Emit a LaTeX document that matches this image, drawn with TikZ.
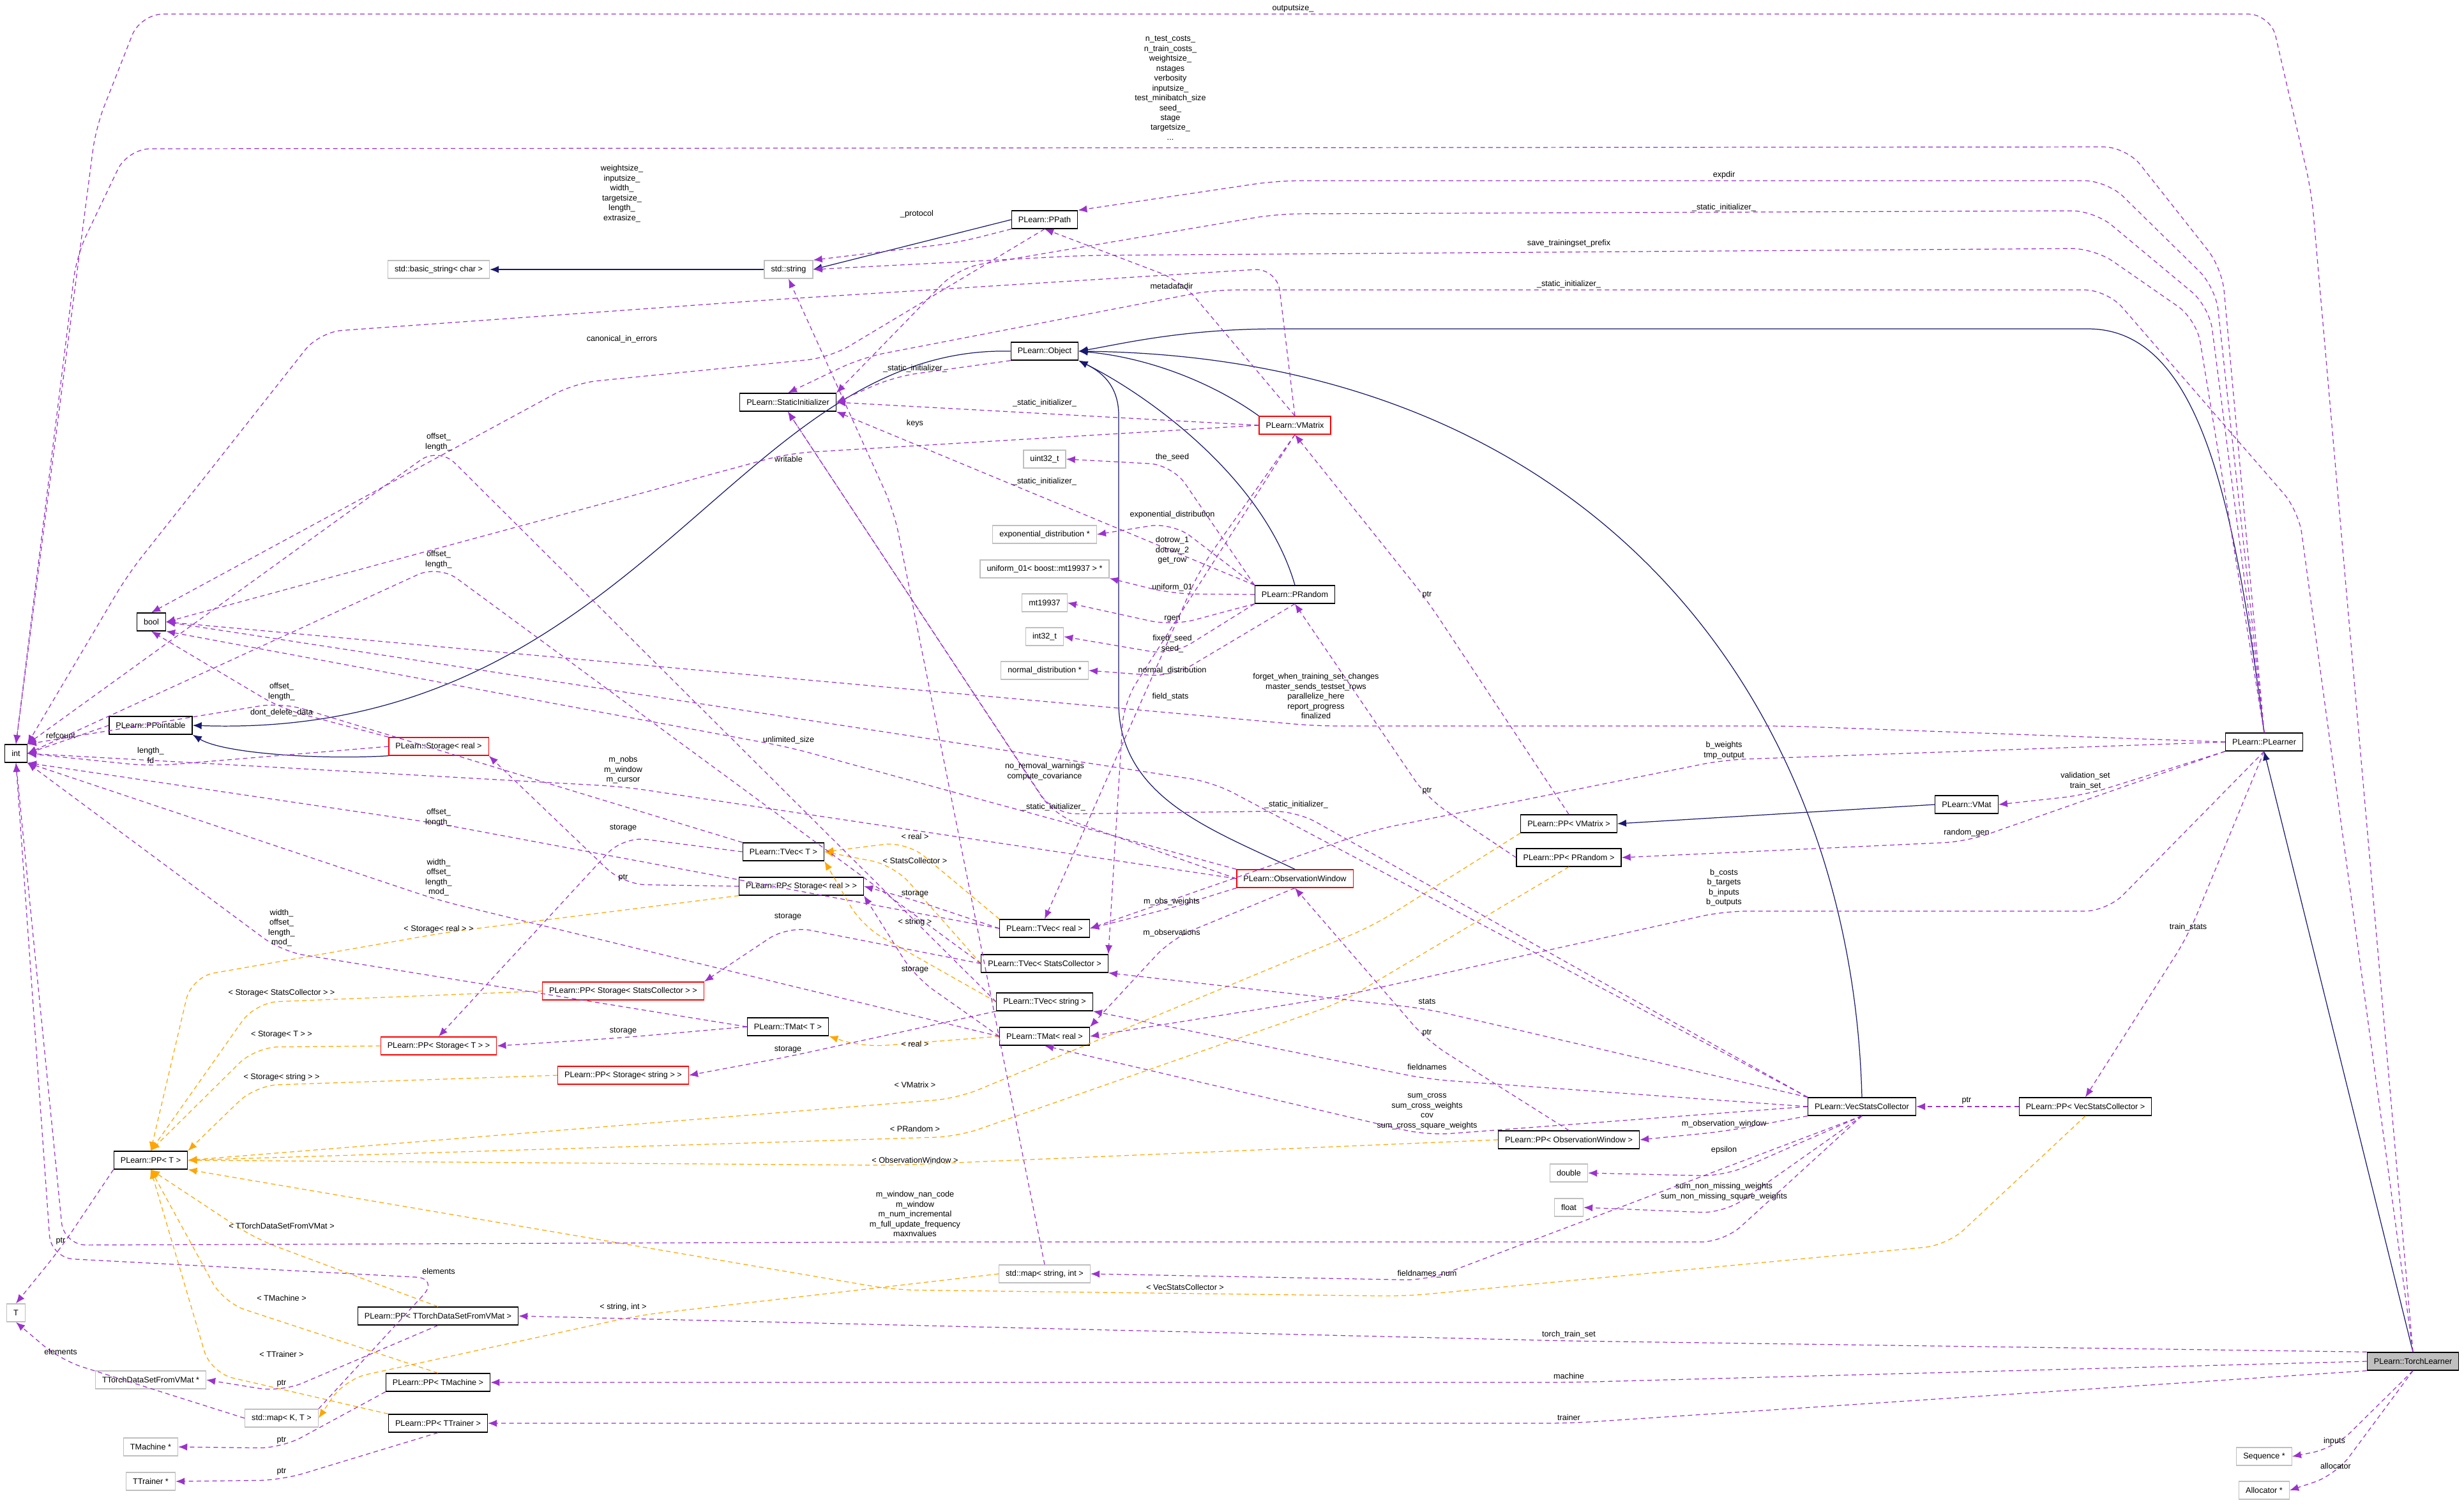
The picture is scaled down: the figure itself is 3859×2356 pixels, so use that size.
\documentclass[tikz,border=0pt]{standalone}
\usepackage{fontspec}
\setmainfont{Liberation Sans}
\usetikzlibrary{arrows.meta}
\definecolor{inhblue}{RGB}{25,25,112}
\definecolor{usepurple}{RGB}{154,50,205}
\definecolor{tplorange}{RGB}{255,165,0}
\definecolor{boxgray}{RGB}{191,191,191}
\tikzset{
  box/.style={draw, line width=0.35pt, font=\fontsize{3.6}{4.3}\selectfont, inner xsep=3pt, inner ysep=0pt, minimum height=8pt},
  cls/.style={box, draw=black},
  ext/.style={box, draw=boxgray},
  bad/.style={box, draw=red},
  main/.style={box, draw=black, fill=boxgray},
  lbl/.style={font=\fontsize{3.6}{4.4}\selectfont, align=center, inner sep=0pt},
  inh/.style={draw=inhblue, line width=0.35pt, -{Latex[length=4pt,width=3.2pt]}},
  use/.style={draw=usepurple, line width=0.35pt, dash pattern=on 2pt off 1.5pt, rounded corners=10pt, -{Latex[length=4pt,width=3.2pt]}},
  tpl/.style={draw=tplorange, line width=0.35pt, dash pattern=on 2pt off 1.5pt, rounded corners=10pt, -{Latex[length=4pt,width=3.2pt]}},
}
\begin{document}
\begin{tikzpicture}[x=0.01cm,y=-0.01cm]
    \useasboundingbox (0,0) rectangle (3859,2356);

    % classes
    \node[cls] (intT) at (25,1180) {int};
    \node[cls] (boolT) at (237,974) {bool};
    \node[ext] (tT) at (25,2056) {T};
    \node[cls] (ppointable) at (236,1136) {PLearn::PPointable};
    \node[bad] (storagereal) at (687,1169) {PLearn::Storage< real >};
    \node[ext] (basicstr) at (687,422) {std::basic\_string< char >};
    \node[ext] (stdstr) at (1235,422) {std::string};
    \node[cls] (ppath) at (1636,344) {PLearn::PPath};
    \node[cls] (object) at (1636,550) {PLearn::Object};
    \node[cls] (staticinit) at (1234,630) {PLearn::StaticInitializer};
    \node[bad] (vmatrix) at (2028,666) {PLearn::VMatrix};
    \node[ext] (uint32) at (1636,719) {uint32\_t};
    \node[ext] (expdist) at (1636,837) {exponential\_distribution *};
    \node[ext] (unif01) at (1636,891) {uniform\_01< boost::mt19937 > *};
    \node[ext] (mtwist) at (1636,944) {mt19937};
    \node[ext] (int32) at (1636,997) {int32\_t};
    \node[ext] (normdist) at (1636,1050) {normal\_distribution *};
    \node[cls] (prandom) at (2028,931) {PLearn::PRandom};
    \node[cls] (tvecT) at (1227,1334) {PLearn::TVec< T >};
    \node[cls] (ppstoragereal) at (1255,1388) {PLearn::PP< Storage< real > >};
    \node[bad] (ppstoragesc) at (976,1552) {PLearn::PP< Storage< StatsCollector > >};
    \node[cls] (tmatT) at (1234,1608) {PLearn::TMat< T >};
    \node[bad] (ppstorageT) at (687,1638) {PLearn::PP< Storage< T > >};
    \node[bad] (ppstoragestr) at (976,1684) {PLearn::PP< Storage< string > >};
    \node[cls] (ppT) at (236,1817) {PLearn::PP< T >};
    \node[cls] (tvecreal) at (1636,1454) {PLearn::TVec< real >};
    \node[cls] (tvecsc) at (1636,1509) {PLearn::TVec< StatsCollector >};
    \node[cls] (tvecstr) at (1636,1569) {PLearn::TVec< string >};
    \node[cls] (tmatreal) at (1636,1623) {PLearn::TMat< real >};
    \node[bad] (obswin) at (2028,1376) {PLearn::ObservationWindow};
    \node[cls] (ppvmatrix) at (2457,1290) {PLearn::PP< VMatrix >};
    \node[cls] (ppprandom) at (2457,1343) {PLearn::PP< PRandom >};
    \node[cls] (ppobswin) at (2457,1785) {PLearn::PP< ObservationWindow >};
    \node[ext] (doubleT) at (2457,1837) {double};
    \node[ext] (floatT) at (2457,1891) {float};
    \node[cls] (vecstats) at (2916,1733) {PLearn::VecStatsCollector};
    \node[cls] (ppvecstats) at (3266,1733) {PLearn::PP< VecStatsCollector >};
    \node[cls] (vmat) at (3080,1260) {PLearn::VMat};
    \node[cls] (plearner) at (3546,1162) {PLearn::PLearner};
    \node[main] (torch) at (3779,2132) {PLearn::TorchLearner};
    \node[ext] (sequence) at (3546,2281) {Sequence *};
    \node[ext] (allocator) at (3546,2334) {Allocator *};
    \node[ext] (mapstrint) at (1636,1995) {std::map< string, int >};
    \node[cls] (ppttorch) at (686,2061) {PLearn::PP< TTorchDataSetFromVMat >};
    \node[ext] (ttorch) at (236,2161) {TTorchDataSetFromVMat *};
    \node[ext] (mapKT) at (441,2221) {std::map< K, T >};
    \node[cls] (pptmachine) at (686,2165) {PLearn::PP< TMachine >};
    \node[cls] (pptrainer) at (686,2229) {PLearn::PP< TTrainer >};
    \node[ext] (tmachine) at (236,2266) {TMachine *};
    \node[ext] (ttrainer) at (236,2320) {TTrainer *};

    % inheritance
    \draw[inh] (stdstr) -- (basicstr);
    \draw[inh] (ppath.west) -- (stdstr.east);
    \draw[inh] (plearner.north) .. controls (3500,800) and (3450,515) .. (3270,515) -- (2000,515) .. controls (1850,515) and (1750,540) .. (object.east);
    \draw[inh] (vmatrix.north west) .. controls (1900,600) and (1800,560) .. (object.east);
    \draw[inh] (prandom.north) .. controls (1980,750) and (1800,620) .. (object.south east);
    \draw[inh] (obswin.north) .. controls (1900,1300) and (1752,1250) .. (1752,1100) -- (1752,650) .. controls (1752,600) and (1720,580) .. (object.south east);
    \draw[inh] (vecstats.north) .. controls (2900,1100) and (2500,560) .. (object.east);
    \draw[inh] (object.west) .. controls (1150,540) and (1000,1160) .. (ppointable.east);
    \draw[inh] (storagereal.south west) .. controls (500,1190) and (350,1180) .. (ppointable.south east);
    \draw[inh] (vmat.west) -- (ppvmatrix.east);
    \draw[inh] (torch.north) -- (plearner.south);

    % templates
    \draw[tpl] (ppstoragereal.south west) -- (700,1460) -- (300,1530) -- (ppT.north);
    \draw[tpl] (ppstoragesc.west) -- (400,1570) -- (ppT.north);
    \draw[tpl] (ppstorageT.west) -- (400,1640) -- (ppT.north);
    \draw[tpl] (ppstoragestr.west) -- (400,1700) -- (ppT.north east);
    \draw[tpl] (ppvmatrix.south west) -- (2150,1450) -- (1500,1720) -- (ppT.east);
    \draw[tpl] (ppprandom.south) -- (2100,1570) -- (1500,1780) -- (ppT.east);
    \draw[tpl] (ppobswin.west) -- (1400,1825) -- (ppT.east);
    \draw[tpl] (ppvecstats.south) -- (3050,1950) -- (2200,2030) -- (1400,2020) -- (ppT.south east);
    \draw[tpl] (ppttorch.north) -- (400,1940) -- (ppT.south);
    \draw[tpl] (pptmachine.north) -- (350,2040) -- (ppT.south);
    \draw[tpl] (pptrainer.north west) -- (330,2150) -- (ppT.south);
    \draw[tpl] (tvecreal.north west) -- (1420,1318) -- (tvecT.east);
    \draw[tpl] (tvecsc.west) -- (1400,1355) -- (tvecT.east);
    \draw[tpl] (tvecstr.west) -- (1350,1450) -- (tvecT.south east);
    \draw[tpl] (tmatreal.west) -- (1350,1640) -- (tmatT.south east);
    \draw[tpl] (mapstrint.west) -- (1000,2060) -- (540,2160) -- (mapKT.east);

    % members
    \draw[use] (torch.north) -- (3620,300) -- (3556,22) -- (220,22) -- (150,200) -- (intT.north);
    \draw[use] (plearner.north) -- (3480,420) -- (3330,230) -- (200,233) -- (120,400) -- (intT.north);
    \draw[use] (vmatrix.north) -- (2000,420) -- (1200,470) -- (500,520) -- (200,900) -- (intT.north east);
    \draw[use] (plearner.north) -- (3470,450) -- (3300,283) -- (2000,283) -- (ppath.north east);
    \draw[use] (plearner.north) -- (3460,480) -- (3280,330) -- (2000,335) -- (1500,420) -- (staticinit.north east);
    \draw[use] (plearner.north) -- (3440,500) -- (3280,389) -- (1700,400) -- (stdstr.east);
    \draw[use] (torch.north) -- (3600,800) -- (3300,454) -- (1900,454) -- (1350,560) -- (staticinit.north);
    \draw[use] (ppath.south west) -- (1500,380) -- (stdstr.north east);
    \draw[use] (ppath.south) -- (1300,560) -- (900,600) -- (boolT.north);
    \draw[use] (object.south west) -- (1400,590) -- (staticinit.east);
    \draw[use] (vmatrix.west) -- (staticinit.east);
    \draw[use] (prandom.north west) -- (1636,780) -- (staticinit.south east);
    \draw[use] (vmatrix.north) -- (1850,440) -- (ppath.south);
    \draw[use] (vmatrix.west) -- (1235,710) -- (boolT.east);
    \draw[use] (mapstrint.north) -- (1400,800) -- (stdstr.south);
    \draw[use] (prandom.north west) -- (1836,728) -- (uint32.east);
    \draw[use] (prandom.north west) -- (1836,818) -- (expdist.east);
    \draw[use] (vmatrix.south) -- (1880,890) -- (tvecreal.north);
    \draw[use] (prandom.west) -- (1836,930) -- (unif01.south east);
    \draw[use] (prandom.south west) -- (1836,980) -- (mtwist.east);
    \draw[use] (prandom.south west) -- (1836,1026) -- (int32.east);
    \draw[use] (prandom.south) -- (1836,1060) -- (normdist.east);
    \draw[use] (vmatrix.south) -- (1760,1100) -- (tvecsc.north east);
    \draw[use] (plearner.west) -- (2800,1137) -- (2061,1137) -- (boolT.east);
    \draw[use] (ppvmatrix.north) -- (2235,940) -- (vmatrix.south);
    \draw[use] (ppprandom.west) -- (2235,1250) -- (prandom.south);
    \draw[use] (ppobswin.north) -- (2235,1630) -- (obswin.south);
    \draw[use] (plearner.west) -- (2700,1190) -- (2150,1300) -- (tvecreal.east);
    \draw[use] (plearner.south west) -- (3266,1245) -- (vmat.east);
    \draw[use] (plearner.south west) -- (3080,1318) -- (ppprandom.east);
    \draw[use] (plearner.south) -- (3300,1427) -- (2700,1427) -- (2100,1560) -- (tmatreal.east);
    \draw[use] (plearner.south) -- (3427,1465) -- (ppvecstats.north);
    \draw[use] (ppvecstats.west) -- (vecstats.east);
    \draw[use] (vecstats.north west) -- (2235,1580) -- (tvecsc.south east);
    \draw[use] (vecstats.west) -- (2235,1690) -- (tvecstr.south east);
    \draw[use] (vecstats.west) -- (2235,1778) -- (tmatreal.south);
    \draw[use] (vecstats.south west) -- (2700,1772) -- (ppobswin.east);
    \draw[use] (vecstats.south) -- (2700,1842) -- (doubleT.east);
    \draw[use] (vecstats.south) -- (2700,1900) -- (floatT.east);
    \draw[use] (vecstats.south) -- (2700,1945) -- (1433,1945) -- (100,1950) -- (intT.south);
    \draw[use] (vecstats.south) -- (2235,2005) -- (mapstrint.east);
    \draw[use] (vecstats.north west) -- (1900,1225) -- (boolT.east);
    \draw[use] (vecstats.north west) -- (2030,1270) -- (1650,1275) -- (staticinit.south);
    \draw[use] (obswin.west) -- (1650,1276) -- (staticinit.south);
    \draw[use] (mapKT.north east) -- (687,2002) -- (80,1970) -- (intT.south);
    \draw[use] (mapKT.west) -- (95,2130) -- (tT.south);
    \draw[use] (ppT.south west) -- (95,1955) -- (tT.north);
    \draw[use] (torch.north west) -- (2457,2100) -- (ppttorch.east);
    \draw[use] (torch.west) -- (2457,2165) -- (pptmachine.east);
    \draw[use] (torch.south west) -- (2457,2229) -- (pptrainer.east);
    \draw[use] (ppttorch.south) -- (441,2180) -- (ttorch.east);
    \draw[use] (pptmachine.south west) -- (441,2268) -- (tmachine.east);
    \draw[use] (pptrainer.south) -- (441,2318) -- (ttrainer.east);
    \draw[use] (torch.south) -- (3656,2268) -- (sequence.east);
    \draw[use] (torch.south) -- (3658,2310) -- (allocator.east);
    \draw[use] (ppointable.west) -- (intT.east);
    \draw[use] (storagereal.west) -- (236,1200) -- (intT.east);
    \draw[use] (storagereal.north west) -- (441,1110) -- (boolT.south);
    \draw[use] (tvecT.north west) -- (441,1100) -- (intT.north east);
    \draw[use] (tvecT.west) -- (976,1310) -- (ppstorageT.north);
    \draw[use] (ppstoragereal.west) -- (976,1385) -- (storagereal.south east);
    \draw[use] (tmatT.west) -- (441,1490) -- (intT.south east);
    \draw[use] (tmatT.west) -- (976,1625) -- (ppstorageT.east);
    \draw[use] (tvecstr.west) -- (687,700) -- (intT.north east);
    \draw[use] (tvecsc.west) -- (687,885) -- (intT.east);
    \draw[use] (tvecreal.west) -- (687,1290) -- (intT.south east);
    \draw[use] (tmatreal.west) -- (687,1410) -- (intT.south east);
    \draw[use] (tvecreal.west) -- (1433,1410) -- (ppstoragereal.east);
    \draw[use] (tvecsc.west) -- (1234,1450) -- (ppstoragesc.north east);
    \draw[use] (tvecstr.south west) -- (1234,1655) -- (ppstoragestr.east);
    \draw[use] (tmatreal.west) -- (1433,1530) -- (ppstoragereal.south east);
    \draw[use] (obswin.west) -- (976,1232) -- (intT.east);
    \draw[use] (obswin.north west) -- (1235,1170) -- (boolT.south east);
    \draw[use] (obswin.south west) -- (1835,1422) -- (tvecreal.east);
    \draw[use] (obswin.south) -- (1835,1470) -- (tmatreal.north east);

    % labels
    \node[lbl] (l01) at (2025,13) {outputsize\_};
    \node[lbl] (l02) at (1833,138) {n\_test\_costs\_\\n\_train\_costs\_\\weightsize\_\\nstages\\verbosity\\inputsize\_\\test\_minibatch\_size\\seed\_\\stage\\targetsize\_\\...};
    \node[lbl] (l03) at (974,303) {weightsize\_\\inputsize\_\\width\_\\targetsize\_\\length\_\\extrasize\_};
    \node[lbl] (l04) at (2700,274) {expdir};
    \node[lbl] (l05) at (2700,325) {\_static\_initializer\_};
    \node[lbl] (l06) at (2457,381) {save\_trainingset\_prefix};
    \node[lbl] (l07) at (2457,445) {\_static\_initializer\_};
    \node[lbl] (l08) at (1835,448) {metadatadir};
    \node[lbl] (l09) at (1436,335) {\_protocol};
    \node[lbl] (l10) at (974,531) {canonical\_in\_errors};
    \node[lbl] (l11) at (1433,577) {\_static\_initializer\_};
    \node[lbl] (l12) at (1636,631) {\_static\_initializer\_};
    \node[lbl] (l13) at (1433,663) {keys};
    \node[lbl] (l14) at (1235,719) {writable};
    \node[lbl] (l15) at (1636,754) {\_static\_initializer\_};
    \node[lbl] (l16) at (687,692) {offset\_\\length\_};
    \node[lbl] (l17) at (687,876) {offset\_\\length\_};
    \node[lbl] (l18) at (1836,716) {the\_seed};
    \node[lbl] (l19) at (1836,806) {exponential\_distribution};
    \node[lbl] (l20) at (1836,862) {dotrow\_1\\dotrow\_2\\get\_row};
    \node[lbl] (l21) at (1836,920) {uniform\_01};
    \node[lbl] (l22) at (1836,969) {rgen};
    \node[lbl] (l23) at (1836,1008) {fixed\_seed\\seed\_};
    \node[lbl] (l24) at (1836,1050) {normal\_distribution};
    \node[lbl] (l25) at (1833,1091) {field\_stats};
    \node[lbl] (l26) at (2061,1090) {forget\_when\_training\_set\_changes\\master\_sends\_testset\_rows\\parallelize\_here\\report\_progress\\finalized};
    \node[lbl] (l27) at (2235,932) {ptr};
    \node[lbl] (l28) at (2235,1239) {ptr};
    \node[lbl] (l29) at (2235,1618) {ptr};
    \node[lbl] (l30) at (2700,1175) {b\_weights\\tmp\_output};
    \node[lbl] (l31) at (3266,1223) {validation\_set\\train\_set};
    \node[lbl] (l32) at (3080,1304) {random\_gen};
    \node[lbl] (l33) at (2700,1390) {b\_costs\\b\_targets\\b\_inputs\\b\_outputs};
    \node[lbl] (l34) at (3427,1452) {train\_stats};
    \node[lbl] (l35) at (3080,1724) {ptr};
    \node[lbl] (l36) at (2235,1568) {stats};
    \node[lbl] (l37) at (2235,1671) {fieldnames};
    \node[lbl] (l38) at (2235,1741) {sum\_cross\\sum\_cross\_weights\\cov\\sum\_cross\_square\_weights};
    \node[lbl] (l39) at (2700,1760) {m\_observation\_window};
    \node[lbl] (l40) at (2700,1801) {epsilon};
    \node[lbl] (l41) at (2700,1866) {sum\_non\_missing\_weights\\sum\_non\_missing\_square\_weights};
    \node[lbl] (l42) at (1433,1901) {m\_window\_nan\_code\\m\_window\\m\_num\_incremental\\m\_full\_update\_frequency\\maxnvalues};
    \node[lbl] (l43) at (2235,1995) {fieldnames\_num};
    \node[lbl] (l44) at (1636,1208) {no\_removal\_warnings\\compute\_covariance};
    \node[lbl] (l45) at (1650,1264) {\_static\_initializer\_};
    \node[lbl] (l46) at (2030,1260) {\_static\_initializer\_};
    \node[lbl] (l47) at (1835,1412) {m\_obs\_weights};
    \node[lbl] (l48) at (1835,1461) {m\_observations};
    \node[lbl] (l49) at (687,1991) {elements};
    \node[lbl] (l50) at (95,2117) {elements};
    \node[lbl] (l51) at (95,1944) {ptr};
    \node[lbl] (l52) at (2457,2090) {torch\_train\_set};
    \node[lbl] (l53) at (2457,2155) {machine};
    \node[lbl] (l54) at (2457,2220) {trainer};
    \node[lbl] (l55) at (441,2167) {ptr};
    \node[lbl] (l56) at (441,2256) {ptr};
    \node[lbl] (l57) at (441,2305) {ptr};
    \node[lbl] (l58) at (3656,2257) {inputs};
    \node[lbl] (l59) at (3658,2296) {allocator};
    \node[lbl] (l60) at (95,1152) {refcount};
    \node[lbl] (l61) at (236,1183) {length\_\\fd};
    \node[lbl] (l62) at (441,1116) {dont\_delete\_data};
    \node[lbl] (l63) at (441,1083) {offset\_\\length\_};
    \node[lbl] (l64) at (976,1297) {storage};
    \node[lbl] (l65) at (976,1375) {ptr};
    \node[lbl] (l66) at (441,1453) {width\_\\offset\_\\length\_\\mod\_};
    \node[lbl] (l67) at (976,1615) {storage};
    \node[lbl] (l68) at (687,1280) {offset\_\\length\_};
    \node[lbl] (l69) at (687,1374) {width\_\\offset\_\\length\_\\mod\_};
    \node[lbl] (l70) at (1433,1400) {storage};
    \node[lbl] (l71) at (1234,1436) {storage};
    \node[lbl] (l72) at (1234,1644) {storage};
    \node[lbl] (l73) at (1433,1519) {storage};
    \node[lbl] (l74) at (976,1206) {m\_nobs\\m\_window\\m\_cursor};
    \node[lbl] (l75) at (1235,1159) {unlimited\_size};
    \node[lbl] (l76) at (687,1455) {< Storage< real > >};
    \node[lbl] (l77) at (441,1555) {< Storage< StatsCollector > >};
    \node[lbl] (l78) at (441,1620) {< Storage< T > >};
    \node[lbl] (l79) at (441,1687) {< Storage< string > >};
    \node[lbl] (l80) at (441,1920) {< TTorchDataSetFromVMat >};
    \node[lbl] (l81) at (441,2033) {< TMachine >};
    \node[lbl] (l82) at (441,2121) {< TTrainer >};
    \node[lbl] (l83) at (976,2047) {< string, int >};
    \node[lbl] (l84) at (1433,1310) {< real >};
    \node[lbl] (l85) at (1433,1348) {< StatsCollector >};
    \node[lbl] (l86) at (1433,1444) {< string >};
    \node[lbl] (l87) at (1433,1635) {< real >};
    \node[lbl] (l88) at (1433,1699) {< VMatrix >};
    \node[lbl] (l89) at (1433,1768) {< PRandom >};
    \node[lbl] (l90) at (1433,1817) {< ObservationWindow >};
    \node[lbl] (l91) at (1856,2016) {< VecStatsCollector >};
\end{tikzpicture}
\end{document}
